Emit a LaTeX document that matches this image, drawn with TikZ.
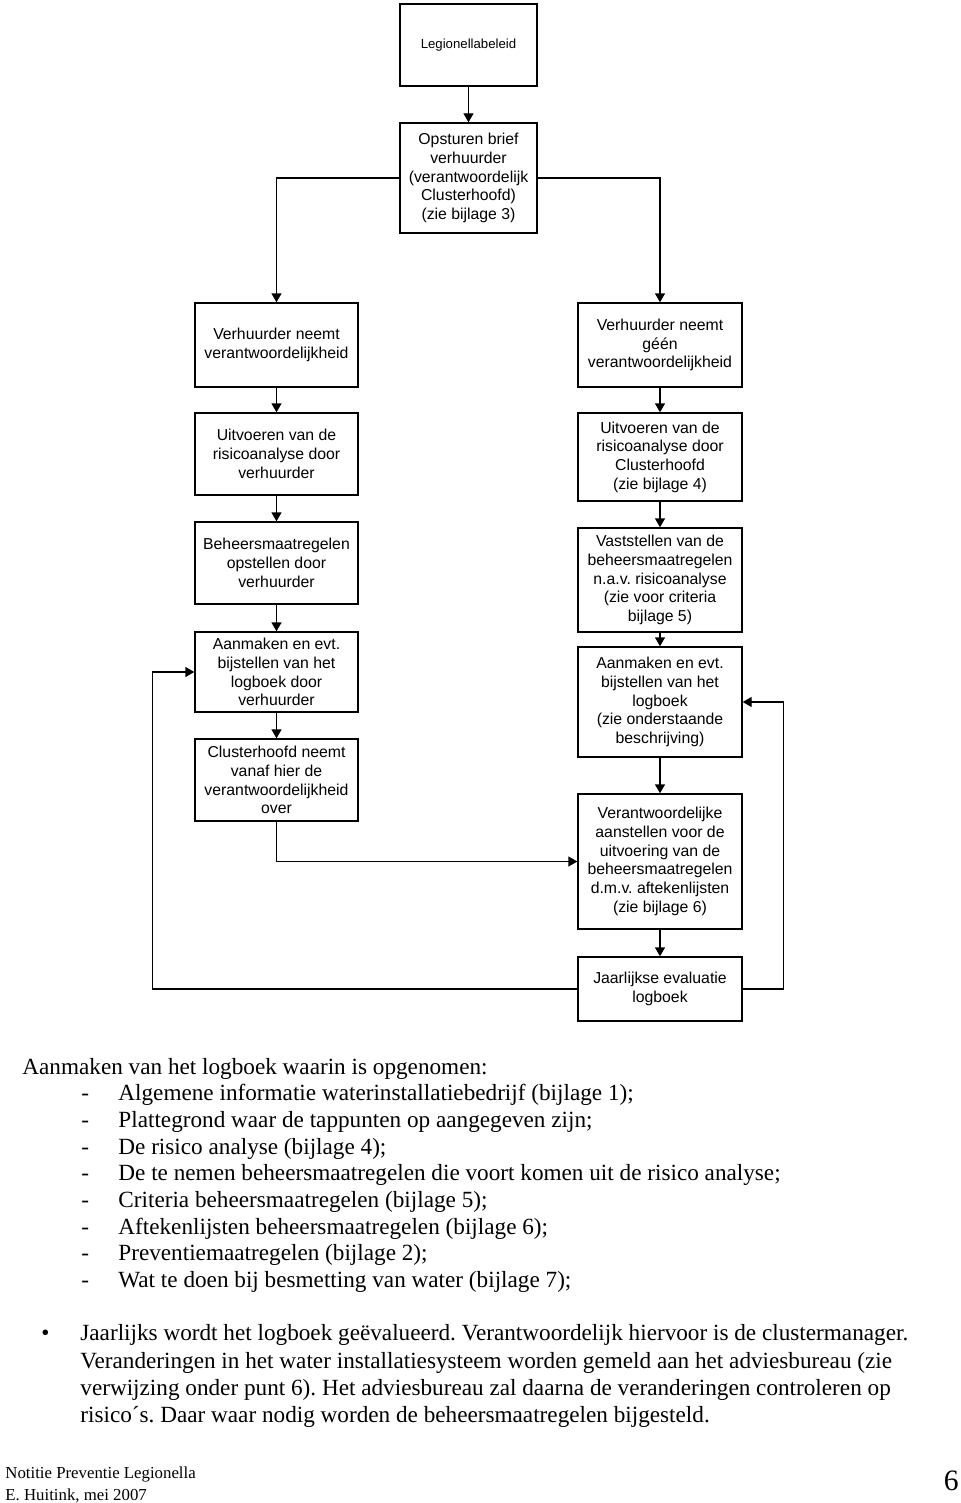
\documentclass[tikz,border=0pt]{standalone}
\usepackage{fontspec}
\setmainfont{Liberation Serif}
\newfontfamily\boxfont{Liberation Sans}
\usetikzlibrary{arrows.meta}
\frenchspacing

\tikzset{
	box/.style={draw, line width=0.7pt, inner sep=0pt, align=center, font=\boxfont\fontsize{7.9}{9.35}\selectfont},
	lbox/.style={box, minimum width=81.5pt},
	rbox/.style={box, minimum width=82pt},
	line/.style={-{Triangle[length=4.5pt,width=5pt]}, line width=0.7pt},
	txt/.style={anchor=base west, inner sep=0pt, font=\fontsize{11.6}{13.4}\selectfont},
	foot/.style={anchor=base west, inner sep=0pt, font=\fontsize{8.4}{9}\selectfont}
}

\begin{document}
\begin{tikzpicture}[x=0.5pt, y=-0.5pt]
		\useasboundingbox (0,0) rectangle (960,1503);
		
		\node[box, minimum width=68.5pt, minimum height=41pt] (leg) at (468.5,45) {\fontsize{6.6}{8}\selectfont Legionellabeleid};
		\node[box, minimum width=68.5pt, minimum height=55pt] (brief) at (468.5,178) {Opsturen brief\\verhuurder\\(verantwoordelijk\\Clusterhoofd)\\(zie bijlage 3)};
		
		\node[lbox, minimum height=42pt] (vl1) at (276.5,345) {Verhuurder neemt\\verantwoordelijkheid};
		\node[lbox, minimum height=41pt] (vl2) at (276.5,454) {Uitvoeren van de\\risicoanalyse door\\verhuurder};
		\node[lbox, minimum height=41pt] (vl3) at (276.5,563) {Beheersmaatregelen\\opstellen door\\verhuurder};
		\node[lbox, minimum height=40pt] (vl4) at (276.5,672) {Aanmaken en evt.\\bijstellen van het\\logboek door\\verhuurder};
		\node[lbox, minimum height=41pt] (vl5) at (276.5,780) {Clusterhoofd neemt\\vanaf hier de\\verantwoordelijkheid\\over};
		
		\node[rbox, minimum height=42pt] (vr1) at (660,345) {Verhuurder neemt\\géén\\verantwoordelijkheid};
		\node[rbox, minimum height=44pt] (vr2) at (660,457) {Uitvoeren van de\\risicoanalyse door\\Clusterhoofd\\(zie bijlage 4)};
		\node[rbox, minimum height=52pt] (vr3) at (660,580) {Vaststellen van de\\beheersmaatregelen\\n.a.v. risicoanalyse\\(zie voor criteria\\bijlage 5)};
		\node[rbox, minimum height=55pt] (vr4) at (660,702) {Aanmaken en evt.\\bijstellen van het\\logboek\\(zie onderstaande\\beschrijving)};
		\node[rbox, minimum height=67.5pt] (vr5) at (660,861.5) {Verantwoordelijke\\aanstellen voor de\\uitvoering van de\\beheersmaatregelen\\d.m.v. aftekenlijsten\\(zie bijlage 6)};
		\node[rbox, minimum height=32pt] (vr6) at (660,989) {Jaarlijkse evaluatie\\logboek};
		
		\draw[line] (leg) -- (brief);
		\draw[line] (brief.west) -| (vl1);
		\draw[line] (brief.east) -| (vr1);
		\draw[line] (vl1) -- (vl2);
		\draw[line] (vl2) -- (vl3);
		\draw[line] (vl3) -- (vl4);
		\draw[line] (vl4) -- (vl5);
		\draw[line] (vr1) -- (vr2);
		\draw[line] (vr2) -- (vr3);
		\draw[line] (vr3) -- (vr4);
		\draw[line] (vr4) -- (vr5);
		\draw[line] (vr5) -- (vr6);
		\draw[line] (vl5) |- (vr5);
		\draw[line] (vr6.west) -- ++(-425,0) |- (vl4.west);
		\draw[line] (vr6.east) -- ++(41,0) |- (vr4.east);
		
		% tekst onder het schema
		\node[txt] (t0) at (22,1074) {Aanmaken van het logboek waarin is opgenomen:};
		\node[txt] (d1) at (81,1100) {-};
		\node[txt] (t1) at (118,1100) {Algemene informatie waterinstallatiebedrijf (bijlage 1);};
		\node[txt] (d2) at (81,1127) {-};
		\node[txt] (t2) at (118,1127) {Plattegrond waar de tappunten op aangegeven zijn;};
		\node[txt] (d3) at (81,1154) {-};
		\node[txt] (t3) at (118,1154) {De risico analyse (bijlage 4);};
		\node[txt] (d4) at (81,1180) {-};
		\node[txt] (t4) at (118,1180) {De te nemen beheersmaatregelen die voort komen uit de risico analyse;};
		\node[txt] (d5) at (81,1207) {-};
		\node[txt] (t5) at (118,1207) {Criteria beheersmaatregelen (bijlage 5);};
		\node[txt] (d6) at (81,1234) {-};
		\node[txt] (t6) at (118,1234) {Aftekenlijsten beheersmaatregelen (bijlage 6);};
		\node[txt] (d7) at (81,1260) {-};
		\node[txt] (t7) at (118,1260) {Preventiemaatregelen (bijlage 2);};
		\node[txt] (d8) at (81,1287) {-};
		\node[txt] (t8) at (118,1287) {Wat te doen bij besmetting van water (bijlage 7);};
		
		\node[txt] (b0) at (41,1340) {\textbullet};
		\node[txt] (p1) at (80,1340) {Jaarlijks wordt het logboek geëvalueerd. Verantwoordelijk hiervoor is de clustermanager.};
		\node[txt] (p2) at (80,1368) {Veranderingen in het water installatiesysteem worden gemeld aan het adviesbureau (zie};
		\node[txt] (p3) at (80,1395) {verwijzing onder punt 6). Het adviesbureau zal daarna de veranderingen controleren op};
		\node[txt] (p4) at (80,1422) {risico´s. Daar waar nodig worden de beheersmaatregelen bijgesteld.};
		
		\node[foot] (f1) at (5,1478) {Notitie Preventie Legionella};
		\node[foot] (f2) at (5,1500) {E. Huitink, mei 2007};
		\node[anchor=base east, inner sep=0pt, font=\fontsize{14.8}{16}\selectfont] (pg) at (959,1490) {6};
	\end{tikzpicture}
\end{document}
